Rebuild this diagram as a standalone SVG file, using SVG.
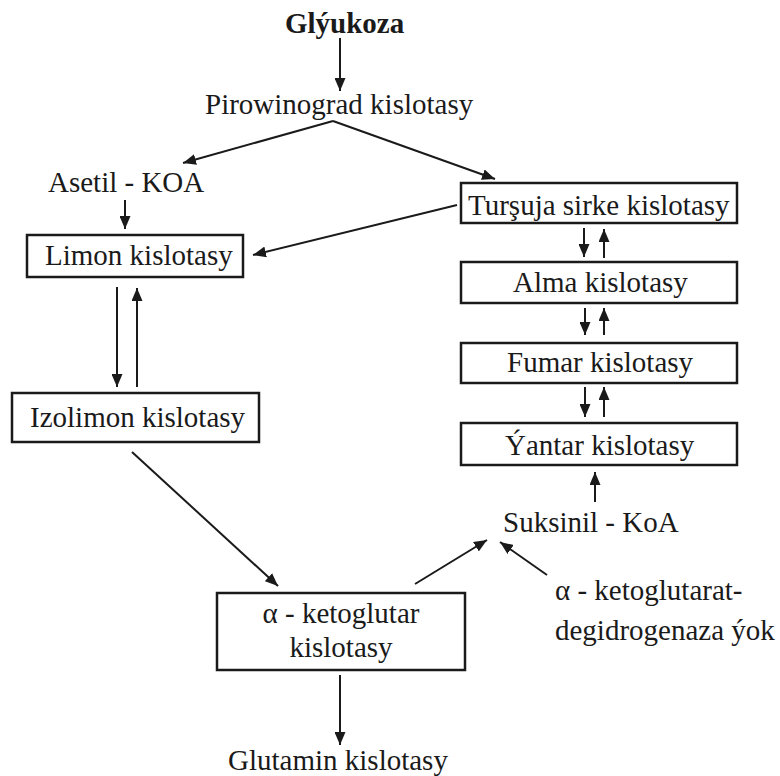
<svg xmlns="http://www.w3.org/2000/svg" width="780" height="776" viewBox="0 0 780 776">
<defs>
<marker id="ah" markerUnits="userSpaceOnUse" markerWidth="13" markerHeight="11" refX="13" refY="5.5" orient="auto">
<path d="M0,0 L13,5.5 L0,11 z" fill="#1a1a1a"/>
</marker>
<style>
text{font-size:29px;fill:#1a1a1a}
.b{font-weight:bold}
rect{fill:#fff;stroke:#1a1a1a;stroke-width:2.5}
.c line{stroke:#1a1a1a;stroke-width:2;marker-end:url(#ah)}
</style>
</defs>
<rect x="0" y="0" width="780" height="776" style="stroke:none"/>
<g font-family="Liberation Serif, Times New Roman, DejaVu Serif, serif">
<g id="glyukoza"><text class="b" x="285" y="33">Glýukoza</text></g>
<g id="pirowinograd"><text x="205" y="114">Pirowinograd kislotasy</text></g>
<g id="asetil"><text x="48" y="192">Asetil - KOA</text></g>
<g id="limon"><rect x="27" y="235" width="216" height="42"/><text x="45" y="265">Limon kislotasy</text></g>
<g id="izolimon"><rect x="12" y="393" width="247" height="49"/><text x="30" y="427">Izolimon kislotasy</text></g>
<g id="tursuja"><rect x="461" y="183" width="276" height="40"/><text x="468" y="215">Turşuja sirke kislotasy</text></g>
<g id="alma"><rect x="461" y="262" width="276" height="41"/><text x="513" y="292">Alma kislotasy</text></g>
<g id="fumar"><rect x="461" y="343" width="276" height="40"/><text x="507" y="372">Fumar kislotasy</text></g>
<g id="yantar"><rect x="461" y="423" width="276" height="42"/><text x="505" y="455">Ýantar kislotasy</text></g>
<g id="suksinil"><text x="503" y="532">Suksinil - KoA</text></g>
<g id="ketoglutarat"><text x="555" y="600">α - ketoglutarat-</text><text x="555" y="640">degidrogenaza ýok</text></g>
<g id="ketoglutar"><rect x="217" y="593" width="248" height="77"/><text x="341" y="623" text-anchor="middle">α - ketoglutar</text><text x="341" y="657" text-anchor="middle">kislotasy</text></g>
<g id="glutamin"><text x="228" y="770">Glutamin kislotasy</text></g>
</g>
<g class="c" id="connectors">
<line x1="340" y1="38" x2="340" y2="91"/>
<line x1="333" y1="121" x2="183" y2="163"/>
<line x1="333" y1="121" x2="495" y2="179"/>
<line x1="125" y1="200" x2="125" y2="229"/>
<line x1="457" y1="205" x2="253" y2="255"/>
<line x1="117" y1="287" x2="117" y2="387"/>
<line x1="137" y1="387" x2="137" y2="288"/>
<line x1="584" y1="228" x2="584" y2="257"/>
<line x1="604" y1="258" x2="604" y2="229"/>
<line x1="585" y1="308" x2="585" y2="335"/>
<line x1="604" y1="335" x2="604" y2="308"/>
<line x1="585" y1="387" x2="585" y2="417"/>
<line x1="604" y1="417" x2="604" y2="387"/>
<line x1="595" y1="502" x2="595" y2="472"/>
<line x1="132" y1="452" x2="278" y2="586"/>
<line x1="415" y1="584" x2="487" y2="540"/>
<line x1="547" y1="575" x2="500" y2="542"/>
<line x1="340" y1="675" x2="340" y2="745"/>
</g>
</svg>
